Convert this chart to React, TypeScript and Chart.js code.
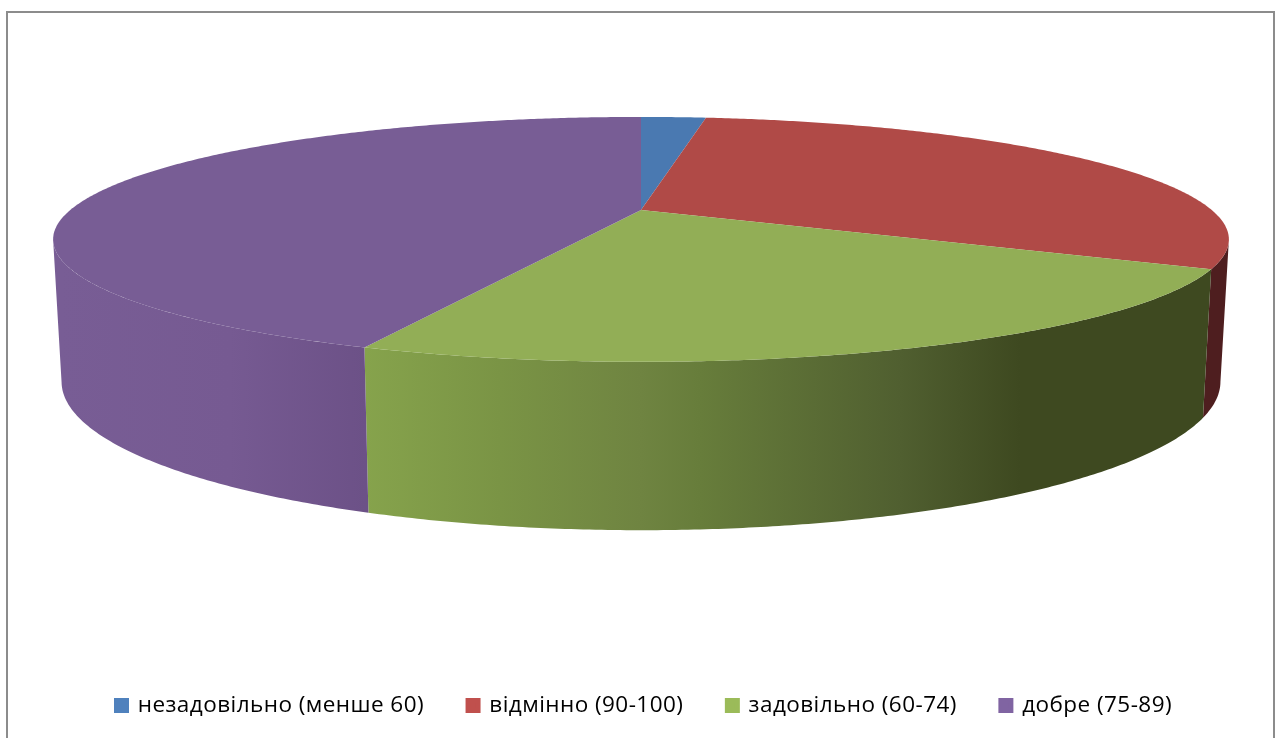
import React, { useEffect, useRef } from "react";
import { Chart, registerables } from "chart.js";

Chart.register(...registerables);

const categories = ["незадовільно (менше 60)", "відмінно (90-100)", "задовільно (60-74)", "добре (75-89)"];
const shares = [2.25, 30.3, 23.6, 43.85];
const legendColors = ["#4f81bd", "#c0504d", "#9bbb59", "#8064a2"];
const topColors = ["#4a79b1", "#b04a47", "#92ae56", "#785d95"];

type Stop = [number, string];
const wallStops: Stop[][] = [
  [[0, "#3d5f8a"], [1, "#3d5f8a"]],
  [[0, "#4e1e1f"], [1, "#4e1e1f"]],
  [[365, "#86a34c"], [500, "#7a9445"], [640, "#6f8441"], [700, "#677d3b"], [900, "#505f30"], [1020, "#3e4920"], [1205, "#3e4920"]],
  [[60, "#785d95"], [230, "#765a92"], [365, "#6c5187"]],
];

const K = 0.24;
const TOP = { cx: 641, cy: 210, a: 570.7, b: 115.4 };
const BOTTOM = { cx: 641, cy: 346, a: 562.5, b: 140 };
const WALL_FROM = (104 * Math.PI) / 180;
const WALL_TO = (256 * Math.PI) / 180;
const LEGEND_TRACKING = "0.45px";

type Plane = typeof TOP;

function project(p: Plane, theta: number): [number, number] {
  const x = Math.sin(theta);
  const y = -Math.cos(theta);
  const w = 1 - K * y;
  return [p.cx + (p.a * x) / w, p.cy + (p.b * y) / w];
}

function trace(ctx: CanvasRenderingContext2D, p: Plane, from: number, to: number, first: boolean) {
  const steps = Math.max(2, Math.ceil(Math.abs(to - from) * 120));
  for (let i = 0; i <= steps; i++) {
    const [px, py] = project(p, from + ((to - from) * i) / steps);
    if (i === 0 && first) ctx.moveTo(px, py);
    else ctx.lineTo(px, py);
  }
}

const perspectivePie = {
  id: "perspectivePie",
  beforeLayout(chart: any) {
    chart.ctx.letterSpacing = LEGEND_TRACKING;
  },
  afterLayout(chart: any) {
    const legend = chart.legend;
    const pad = legend.options.labels.padding;
    legend.left = 116.5 - pad;
    legend.right = legend.left + 1277;
    legend.top = 705.5 - pad - 11.25;
  },
  beforeDraw(chart: any) {
    const ctx: CanvasRenderingContext2D = chart.ctx;
    ctx.save();
    ctx.fillStyle = "#ffffff";
    ctx.fillRect(0, 0, chart.width, chart.height);
    ctx.strokeStyle = "#8c8c8c";
    ctx.lineWidth = 2;
    ctx.beginPath();
    ctx.moveTo(7, 738);
    ctx.lineTo(7, 12);
    ctx.lineTo(1274, 12);
    ctx.lineTo(1274, 738);
    ctx.stroke();
    ctx.restore();
  },
  beforeDatasetsDraw(chart: any) {
    const ctx: CanvasRenderingContext2D = chart.ctx;
    const arcs = chart.getDatasetMeta(0).data;
    ctx.save();
    arcs.forEach((arc: any, i: number) => {
      const s = arc.startAngle + Math.PI / 2;
      const e = arc.endAngle + Math.PI / 2;
      const from = Math.max(s, WALL_FROM);
      const to = Math.min(e, WALL_TO);
      if (to <= from) return;
      const stops = wallStops[i];
      const x0 = stops[0][0];
      const x1 = stops[stops.length - 1][0];
      let fill: string | CanvasGradient = stops[0][1];
      if (x1 > 1) {
        const g = ctx.createLinearGradient(x0, 0, x1, 0);
        stops.forEach(([x, c]) => g.addColorStop((x - x0) / (x1 - x0), c));
        fill = g;
      }
      ctx.beginPath();
      trace(ctx, TOP, from, to, true);
      trace(ctx, BOTTOM, to, from, false);
      ctx.closePath();
      ctx.fillStyle = fill;
      ctx.fill();
    });
    arcs.forEach((arc: any, i: number) => {
      const s = arc.startAngle + Math.PI / 2;
      const e = arc.endAngle + Math.PI / 2;
      ctx.beginPath();
      ctx.moveTo(TOP.cx, TOP.cy);
      trace(ctx, TOP, s, e, false);
      ctx.closePath();
      ctx.fillStyle = topColors[i];
      ctx.fill();
    });
    ctx.restore();
    return false;
  },
};

export default function App() {
  const ref = useRef<HTMLCanvasElement>(null);
  useEffect(() => {
    const chart = new Chart(ref.current!, {
      type: "pie",
      data: {
        labels: categories,
        datasets: [{ data: shares, backgroundColor: legendColors, borderColor: legendColors, borderWidth: 5 }],
      },
      plugins: [perspectivePie],
      options: {
        responsive: false,
        animation: false,
        events: [],
        plugins: {
          tooltip: { enabled: false },
          legend: {
            position: "bottom",
            align: "start",
            labels: {
              boxWidth: 10,
              boxHeight: 10,
              padding: 44,
              color: "#000000",
              font: { family: "'Open Sans'", size: 22.5 },
            },
          },
        },
      },
    } as any);
    return () => chart.destroy();
  }, []);
  return (
    <canvas
      ref={ref}
      width={1277}
      height={738}
      style={{ position: "absolute", left: 0, top: 0, width: 1277, height: 738, display: "block" }}
    />
  );
}
